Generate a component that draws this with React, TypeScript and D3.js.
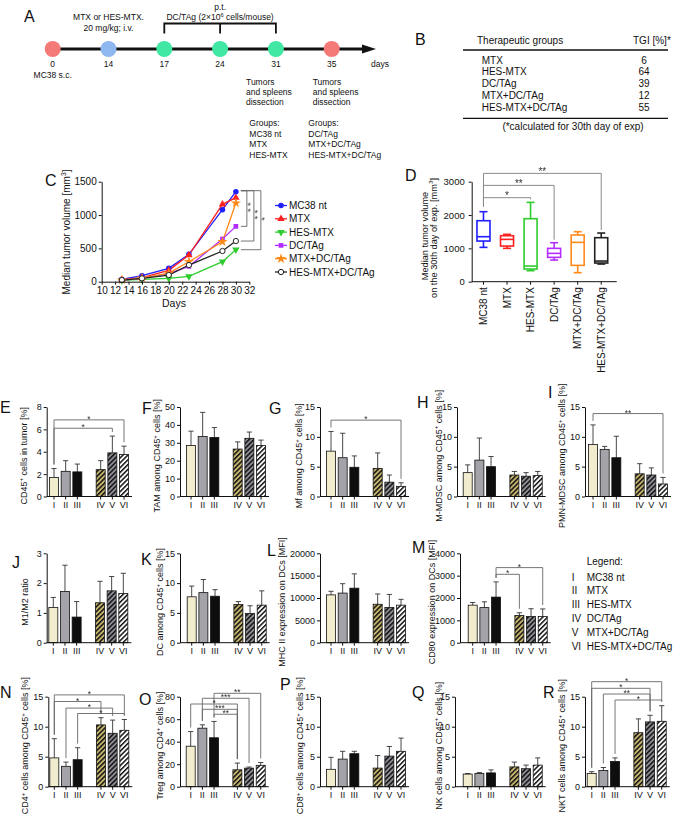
import React, { useEffect, useRef } from "react";
import * as d3 from "d3";

const FONT = "'Liberation Sans', Arial, Helvetica, sans-serif";
const INK = "#111";
const SIG = "#666";

// ---- A: timeline
const timelineDays = [0, 14, 17, 24, 31, 35];
const timelineColors = ["#f47a78", "#8fb8f0", "#40e8a4", "#40e8a4", "#40e8a4", "#f47a78"];

// ---- B: TGI table
const tgiGroups = ["MTX", "HES-MTX", "DC/TAg", "MTX+DC/TAg", "HES-MTX+DC/TAg"];
const tgiValues = [6, 64, 39, 12, 55];

// ---- C: tumour growth
const groupNames = ["MC38 nt", "MTX", "HES-MTX", "DC/TAg", "MTX+DC/TAg", "HES-MTX+DC/TAg"];
const groupColors = ["#1f1fff", "#ff2020", "#2fcc2f", "#b32cff", "#ff8a1a", "#222222"];
const growthDays = [13, 16, 20, 23, 28, 30];
const growthMC38 = [35, 90, 200, 410, 1080, 1350];
const growthMTX = [30, 60, 170, 400, 1160, 1260];
const growthHES = [20, 35, 50, 80, 300, 480];
const growthDC = [25, 50, 120, 230, 640, 830];
const growthMTXDC = [25, 55, 130, 300, 600, 1180];
const growthHESDC = [25, 50, 100, 250, 460, 610];
const growthSeries = [growthMC38, growthMTX, growthHES, growthDC, growthMTXDC, growthHESDC];
// comparisons vs MC38 nt on day 30
const growthSigTarget = [3, 5, 2];
const growthSigLabel = ["**", "**", "*"];

// ---- D: day-30 boxes
const boxMin = [1030, 1000, 330, 650, 270, 530];
const boxQ1 = [1220, 1070, 380, 730, 490, 560];
const boxMedian = [1350, 1270, 470, 850, 1180, 620];
const boxQ3 = [1830, 1380, 1890, 1000, 1400, 1320];
const boxMax = [2100, 1420, 2380, 1170, 1500, 1460];
const boxSig = [
  { a: 0, b: 2, level: 2520, label: "*" },
  { a: 0, b: 3, level: 2890, label: "**" },
  { a: 0, b: 5, level: 3250, label: "**" },
];

// ---- E..R: bar panels (groups I..VI)
const roman = ["I", "II", "III", "IV", "V", "VI"];
const cd45Mean = [1.7, 2.25, 2.2, 2.4, 3.9, 3.75];
const cd45Sd = [0.8, 0.95, 0.7, 0.8, 1.5, 0.75];
const cd45Sig = [{ a: 0, b: 5, level: 6.85, label: "*" }, { a: 0, b: 4, level: 6.1, label: "*" }];
const tamMean = [28.5, 33.5, 33, 26.5, 32.5, 28.5];
const tamSd = [8, 13.5, 5.5, 4, 3.5, 3];
const mfMean = [7.6, 6.5, 4.9, 4.7, 2.4, 1.7];
const mfSd = [3.3, 4.1, 1.9, 2.6, 1.2, 0.6];
const mfSig = [{ a: 0, b: 5, level: 12.8, label: "*" }];
const mmdscMean = [4.0, 6.1, 5.0, 3.6, 3.4, 3.5];
const mmdscSd = [1.3, 3.7, 1.7, 0.6, 0.6, 0.7];
const pmnMean = [8.7, 7.9, 6.5, 3.8, 3.6, 2.1];
const pmnSd = [3.3, 0.5, 3.6, 1.7, 1.2, 1.1];
const pmnSig = [{ a: 0, b: 5, level: 13.9, label: "**" }];
const m1m2Mean = [1.18, 1.72, 0.86, 1.34, 1.74, 1.65];
const m1m2Sd = [0.34, 0.88, 0.52, 0.72, 0.48, 0.68];
const dcMean = [7.7, 8.4, 7.8, 6.4, 4.9, 6.3];
const dcSd = [1.8, 2.2, 1.1, 0.5, 1.3, 2.4];
const mhcMean = [10700, 11100, 12200, 8600, 7900, 8400];
const mhcSd = [800, 2100, 3200, 2300, 2900, 1300];
const cd80Mean = [1680, 1570, 2040, 1220, 1170, 1170];
const cd80Sd = [120, 260, 680, 120, 350, 340];
const cd80Sig = [{ a: 2, b: 5, level: 3360, label: "*" }, { a: 2, b: 3, level: 3060, label: "*" }];
const cd4Mean = [4.8, 3.4, 4.5, 10.3, 8.9, 9.4];
const cd4Sd = [3.2, 0.7, 2.0, 1.2, 2.2, 1.8];
const cd4Sig = [
  { a: 0, b: 5, level: 15.3, label: "*" },
  { a: 0, b: 3, level: 14.2, label: "*" },
  { a: 1, b: 4, level: 13.1, label: "*" },
  { a: 2, b: 5, level: 12.2, label: "*" },
];
const tregMean = [36, 52, 43.5, 15, 16.5, 19];
const tregSd = [13, 3, 14.5, 6, 1, 2.5];
const tregSig = [
  { a: 2, b: 5, level: 83, label: "**" },
  { a: 1, b: 4, level: 78.6, label: "***" },
  { a: 0, b: 3, level: 73.5, label: "*" },
  { a: 1, b: 3, level: 68.8, label: "***" },
  { a: 2, b: 3, level: 64.4, label: "**" },
];
const cd8Mean = [2.9, 4.6, 5.5, 3.1, 5.1, 5.9];
const cd8Sd = [2.0, 1.3, 0.4, 2.1, 1.6, 2.2];
const nkMean = [2.1, 2.2, 2.3, 3.3, 3.0, 3.6];
const nkSd = [0.1, 0.15, 0.5, 0.8, 0.6, 1.2];
const nktMean = [2.2, 2.7, 4.2, 9.0, 10.8, 10.9];
const nktSd = [0.3, 0.5, 0.6, 2.3, 1.1, 2.6];
const nktSig = [
  { a: 0, b: 5, level: 17.5, label: "*" },
  { a: 0, b: 4, level: 16.4, label: "*" },
  { a: 1, b: 4, level: 15.45, label: "**" },
  { a: 2, b: 5, level: 14.45, label: "*" },
];

const barFills = ["#f2ecce", "#a3a3a9", "#0e0e0e", "url(#hatch-iv)", "url(#hatch-v)", "url(#hatch-vi)"];

// layout of the small bar panels
const rows = [
  { y0: 496.5, yTop: 407 },
  { y0: 642.7, yTop: 553.3 },
  { y0: 786.7, yTop: 696.7 },
];
const barPanels = [
  { letter: "E", lx: 0, ly: 413, row: 0, x0: 46.7, x1: 54, max: 8, ticks: [0, 2, 4, 6, 8], label: "CD45{+} cells in tumor [%]", labelX: 26.7, mean: cd45Mean, sd: cd45Sd, sig: cd45Sig },
  { letter: "F", lx: 142, ly: 414, row: 0, x0: 180, x1: 191, max: 50, ticks: [0, 10, 20, 30, 40, 50], label: "TAM among CD45{+} cells [%]", labelX: 160, mean: tamMean, sd: tamSd, sig: [] },
  { letter: "G", lx: 269, ly: 414, row: 0, x0: 320, x1: 331, max: 15, ticks: [0, 5, 10, 15], label: "Mf among CD45{+} cells [%]", labelX: 302, mean: mfMean, sd: mfSd, sig: mfSig },
  { letter: "H", lx: 417, ly: 408, row: 0, x0: 457, x1: 467.7, max: 15, ticks: [0, 5, 10, 15], label: "M-MDSC among CD45{+} cells [%]", labelX: 441.7, mean: mmdscMean, sd: mmdscSd, sig: [] },
  { letter: "I", lx: 548, ly: 398, row: 0, x0: 585, x1: 593, max: 15, ticks: [0, 5, 10, 15], label: "PMN-MDSC among CD45{+} cells [%]", labelX: 565, mean: pmnMean, sd: pmnSd, sig: pmnSig },
  { letter: "J", lx: 12, ly: 568, row: 1, x0: 46.7, x1: 53.3, max: 3, ticks: [0, 1, 2, 3], label: "M1/M2 ratio", labelX: 28.3, mean: m1m2Mean, sd: m1m2Sd, sig: [] },
  { letter: "K", lx: 141, ly: 565, row: 1, x0: 180, x1: 191.7, max: 15, ticks: [0, 5, 10, 15], label: "DC among CD45{+} cells [%]", labelX: 163, mean: dcMean, sd: dcSd, sig: [] },
  { letter: "L", lx: 267, ly: 556, row: 1, x0: 320, x1: 331, max: 20000, ticks: [0, 5000, 10000, 15000, 20000], label: "MHC II expression on DCs [MFI]", labelX: 285, mean: mhcMean, sd: mhcSd, sig: [] },
  { letter: "M", lx: 412, ly: 553, row: 1, x0: 460, x1: 472.7, max: 4000, ticks: [0, 1000, 2000, 3000, 4000], label: "CD80 expression on DCs [MFI]", labelX: 435, mean: cd80Mean, sd: cd80Sd, sig: cd80Sig },
  { letter: "N", lx: 0, ly: 698, row: 2, x0: 48.3, x1: 54.3, max: 15, ticks: [0, 5, 10, 15], label: "CD4{+} cells among CD45{+} cells [%]", labelX: 28, mean: cd4Mean, sd: cd4Sd, sig: cd4Sig },
  { letter: "O", lx: 139, ly: 705, row: 2, x0: 180, x1: 190.7, max: 80, ticks: [0, 20, 40, 60, 80], label: "Treg among CD4{+} cells [%]", labelX: 163, mean: tregMean, sd: tregSd, sig: tregSig },
  { letter: "P", lx: 280, ly: 690, row: 2, x0: 320, x1: 331, max: 15, ticks: [0, 5, 10, 15], label: "CD8{+} cells among CD45{+} cells [%]", labelX: 303, mean: cd8Mean, sd: cd8Sd, sig: [] },
  { letter: "Q", lx: 412, ly: 698, row: 2, x0: 455, x1: 467.7, max: 15, ticks: [0, 5, 10, 15], label: "NK cells among CD45{+} cells [%]", labelX: 441.7, mean: nkMean, sd: nkSd, sig: [] },
  { letter: "R", lx: 543, ly: 698, row: 2, x0: 585, x1: 591.7, max: 15, ticks: [0, 5, 10, 15], label: "NKT cells among CD45{+} cells [%]", labelX: 565, mean: nktMean, sd: nktSd, sig: nktSig },
];

// text with {superscript} parts
function rich(text: string, fs: number) {
  const parts = text.split(/(\{[^}]*\})/).filter((s) => s.length > 0);
  let raised = false;
  return parts.map((p, i) => {
    if (p[0] === "{") {
      raised = true;
      return (
        <tspan key={i} dy={-fs * 0.38} fontSize={fs * 0.68}>
          {p.slice(1, -1)}
        </tspan>
      );
    }
    const dy = raised ? fs * 0.38 : 0;
    raised = false;
    return (
      <tspan key={i} dy={dy}>
        {p}
      </tspan>
    );
  });
}

function Axis({ scale, dir, tx, ty, values, fs = 9, fmt, pad = 2, size = 3, noDomain = false, rotateLabels = false }: any) {
  const ref = useRef<SVGGElement>(null);
  useEffect(() => {
    const axis: any = dir === "left" ? d3.axisLeft(scale) : d3.axisBottom(scale);
    axis.tickSize(size).tickSizeOuter(0).tickPadding(pad);
    if (values) axis.tickValues(values);
    if (fmt) axis.tickFormat(fmt);
    const g = d3.select(ref.current as SVGGElement);
    g.call(axis);
    g.attr("font-family", FONT).attr("font-size", fs);
    g.selectAll("path,line").attr("stroke", INK).attr("stroke-width", 1);
    g.selectAll("text").attr("fill", INK);
    if (noDomain) g.select(".domain").remove();
    if (rotateLabels) {
      g.selectAll("text")
        .attr("transform", "rotate(-90)")
        .attr("x", -(size + pad))
        .attr("y", 0)
        .attr("dy", "0.35em")
        .attr("text-anchor", "end");
    }
  });
  return <g ref={ref} transform={`translate(${tx},${ty})`} />;
}

function Stars({ x, y, label, fs = 9 }: any) {
  // y = line level; asterisks sit just above
  return (
    <text x={x} y={y + 3} textAnchor="middle" fontSize={fs} fill="#333" filter="url(#gray)">
      {label}
    </text>
  );
}

function PanelA() {
  const x = d3.scalePoint<string>().domain(timelineDays.map(String)).range([52.7, 331.7]);
  const px = (d: number) => x(String(d)) as number;
  const cy = 49;
  return (
    <g fontSize={8.5} fill={INK}>
      <text x={24} y={22} fontSize={16}>A</text>
      <text x={px(14)} y={20} textAnchor="middle">MTX or HES-MTX.</text>
      <text x={px(14)} y={31} textAnchor="middle">20 mg/kg; i.v.</text>
      <text x={px(24)} y={9.5} textAnchor="middle">p.t.</text>
      <text x={px(24)} y={20} textAnchor="middle">
        {rich("DC/TAg (2×10{6} cells/mouse)", 8.5)}
      </text>
      <path
        d={`M${px(17)},33.5V23.5H${px(31)}V33.5M${px(24)},23.5V33.5`}
        stroke={INK}
        strokeWidth={1.8}
        fill="none"
      />
      <line x1={px(0)} x2={364} y1={cy} y2={cy} stroke={INK} strokeWidth={3} />
      <path d={`M362,${cy - 4.5}L376,${cy}L362,${cy + 4.5}Z`} fill={INK} />
      {timelineDays.map((d, i) => (
        <g key={d}>
          <circle cx={px(d)} cy={cy} r={8} fill={timelineColors[i]} />
          <text x={px(d)} y={67} textAnchor="middle">{d}</text>
        </g>
      ))}
      <text x={371} y={67}>days</text>
      <text x={px(0)} y={78} textAnchor="middle">MC38 s.c.</text>
      {["Tumors", "and spleens", "dissection"].map((t, i) => (
        <g key={t}>
          <text x={246} y={85 + i * 10.2}>{t}</text>
          <text x={312.7} y={85 + i * 10.2}>{t}</text>
        </g>
      ))}
      {["Groups:", ...groupNames.slice(0, 3)].map((t, i) => (
        <text key={t} x={249.3} y={126 + i * 10.5}>{t}</text>
      ))}
      {["Groups:", ...groupNames.slice(3)].map((t, i) => (
        <text key={t} x={308.3} y={126 + i * 10.5}>{t}</text>
      ))}
    </g>
  );
}

function PanelB() {
  return (
    <g fontSize={10} fill={INK}>
      <text x={415} y={45} fontSize={16}>B</text>
      <text x={477} y={44}>Therapeutic groups</text>
      <text x={633} y={44}>TGI [%]*</text>
      <line x1={463} x2={668} y1={50} y2={50} stroke={INK} strokeWidth={1.3} />
      {tgiGroups.map((g, i) => (
        <g key={g}>
          <text x={481.7} y={63.5 + i * 11.9}>{g}</text>
          <text x={644} y={63.5 + i * 11.9} textAnchor="middle">{tgiValues[i]}</text>
        </g>
      ))}
      <line x1={463} x2={668} y1={118.3} y2={118.3} stroke={INK} strokeWidth={1.3} />
      <text x={573} y={129.5} textAnchor="middle">(*calculated for 30th day of exp)</text>
    </g>
  );
}

const markerTypes = [d3.symbolCircle, d3.symbolTriangle, d3.symbolTriangle, d3.symbolSquare, d3.symbolStar, d3.symbolCircle];
const markerSizes = [24, 24, 24, 22, 32, 22];

function Marker({ i, x, y }: any) {
  const d = d3.symbol().type(markerTypes[i]).size(markerSizes[i])() as string;
  const open = i === 5;
  return (
    <path
      d={d}
      transform={`translate(${x},${y})${i === 2 ? " rotate(180)" : ""}`}
      fill={open ? "#fff" : groupColors[i]}
      stroke={open ? groupColors[i] : "none"}
      strokeWidth={1}
    />
  );
}

function PanelC() {
  const xC = d3.scaleLinear().domain([10, 32]).range([101.7, 249.3]);
  const yC = d3.scaleLinear().domain([0, 1500]).range([281.7, 181.7]);
  const line = d3
    .line<number>()
    .x((_, i) => xC(growthDays[i]))
    .y((v) => yC(v));
  const lastX = xC(growthDays[growthDays.length - 1]);
  const topY = yC(1365);
  return (
    <g fill={INK}>
      <text x={45} y={186} fontSize={16}>C</text>
      {growthSeries.map((s, k) => (
        <path key={k} d={line(s) as string} fill="none" stroke={groupColors[k]} strokeWidth={1.3} />
      ))}
      {growthSeries.map((s, k) =>
        s.map((v, i) => <Marker key={k + "-" + i} i={k} x={xC(growthDays[i])} y={yC(v)} />)
      )}
      {growthSigTarget.map((t, j) => {
        const vx = lastX + 11 + j * 7;
        const by = yC(growthSeries[t][growthSeries[t].length - 1]);
        const mid = (topY + by) / 2;
        return (
          <g key={j}>
            <path d={`M${lastX + 5},${topY}H${vx}V${by}H${lastX + 5}`} fill="none" stroke={SIG} strokeWidth={0.9} />
            <text
              transform={`translate(${vx - 2},${mid}) rotate(90)`}
              fontSize={9}
              textAnchor="middle"
              letterSpacing={2.5}
              fill="#333"
              filter="url(#gray)"
            >
              {growthSigLabel[j]}
            </text>
          </g>
        );
      })}
      <Axis scale={xC} dir="bottom" tx={0} ty={281.7} values={d3.range(10, 33, 2)} fs={10} />
      <Axis scale={yC} dir="left" tx={101.7} ty={0} values={[0, 500, 1000, 1500]} fs={10} fmt={d3.format("d")} />
      <text x={174} y={307} fontSize={10.5} textAnchor="middle">Days</text>
      <text transform="translate(70,232) rotate(-90)" fontSize={10} textAnchor="middle" dy="0.35em">
        {rich("Median tumor volume [mm{3}]", 10)}
      </text>
      {groupNames.map((g, k) => {
        const ly = 205.5 + k * 13.3;
        return (
          <g key={g}>
            <line x1={275} x2={287} y1={ly} y2={ly} stroke={groupColors[k]} strokeWidth={1.3} />
            <Marker i={k} x={281} y={ly} />
            <text x={289} y={ly + 3.6} fontSize={10}>{g}</text>
          </g>
        );
      })}
    </g>
  );
}

function PanelD() {
  const xD = d3.scaleBand<string>().domain(groupNames).range([471.7, 613]);
  const yD = d3.scaleLinear().domain([0, 3000]).range([281.7, 181.7]);
  const cx = (i: number) => (xD(groupNames[i]) as number) + xD.bandwidth() / 2;
  const bw = 13;
  return (
    <g fill={INK}>
      <text x={405} y={181} fontSize={16}>D</text>
      {groupNames.map((g, i) => {
        const c = cx(i);
        const col = groupColors[i];
        return (
          <g key={g} stroke={col} strokeWidth={1.6} fill="none">
            <line x1={c} x2={c} y1={yD(boxMax[i])} y2={yD(boxQ3[i])} />
            <line x1={c} x2={c} y1={yD(boxQ1[i])} y2={yD(boxMin[i])} />
            <line x1={c - 4} x2={c + 4} y1={yD(boxMax[i])} y2={yD(boxMax[i])} />
            <line x1={c - 4} x2={c + 4} y1={yD(boxMin[i])} y2={yD(boxMin[i])} />
            <rect x={c - bw / 2} y={yD(boxQ3[i])} width={bw} height={yD(boxQ1[i]) - yD(boxQ3[i])} fill="#fff" />
            <line x1={c - bw / 2} x2={c + bw / 2} y1={yD(boxMedian[i])} y2={yD(boxMedian[i])} />
          </g>
        );
      })}
      {boxSig.map((s, j) => {
        const xa = cx(s.a);
        const xb = cx(s.b);
        const yl = yD(s.level);
        return (
          <g key={j}>
            <path
              d={`M${xa},${yD(boxMax[s.a]) - 5}V${yl}H${xb}V${yD(boxMax[s.b]) - 3}`}
              fill="none"
              stroke="#8a8a8a"
              strokeWidth={1}
            />
            <Stars x={(xa + xb) / 2} y={yl - 1.5} label={s.label} fs={10} />
          </g>
        );
      })}
      <line x1={471.7} x2={616.7} y1={281.7} y2={281.7} stroke={INK} strokeWidth={1} />
      <Axis scale={xD} dir="bottom" tx={0} ty={281.7} fs={10} pad={2.5} noDomain rotateLabels />
      <Axis scale={yD} dir="left" tx={471.7} ty={0} values={[0, 1000, 2000, 3000]} fs={9.5} pad={4} fmt={d3.format("d")} />
      <text transform="translate(425,236) rotate(-90)" fontSize={9.2} textAnchor="middle" dy="0.35em">
        Median tumor volume
      </text>
      <text transform="translate(436.7,238) rotate(-90)" fontSize={9.2} textAnchor="middle" dy="0.35em">
        {rich("on the 30th day of exp. [mm{3}]", 9.2)}
      </text>
    </g>
  );
}

const slots = ["I", "II", "III", "_", "IV", "V", "VI"];
const slotW = 11.67;

function BarPanel(p: any) {
  const { y0, yTop } = rows[p.row];
  const xs = d3
    .scaleBand<string>()
    .domain(slots)
    .range([p.x1 - slotW / 2, p.x1 + 6.5 * slotW]);
  const ys = d3.scaleLinear().domain([0, p.max]).range([y0, yTop]);
  const cx = (i: number) => (xs(roman[i]) as number) + xs.bandwidth() / 2;
  const bw = 9;
  const errTop = (i: number) => ys(p.mean[i] + p.sd[i]);
  return (
    <g fill={INK}>
      <text x={p.lx} y={p.ly} fontSize={16}>{p.letter}</text>
      {p.mean.map((m: number, i: number) => (
        <g key={i}>
          <line x1={cx(i)} x2={cx(i)} y1={ys(m)} y2={errTop(i)} stroke="#333" strokeWidth={0.9} />
          <line x1={cx(i) - 2.6} x2={cx(i) + 2.6} y1={errTop(i)} y2={errTop(i)} stroke="#333" strokeWidth={0.9} />
          <rect
            x={cx(i) - bw / 2}
            y={ys(m)}
            width={bw}
            height={y0 - ys(m)}
            fill={barFills[i]}
            stroke={INK}
            strokeWidth={0.8}
          />
        </g>
      ))}
      {p.sig.map((s: any, j: number) => {
        const xa = cx(s.a);
        const xb = cx(s.b);
        const yl = ys(s.level);
        return (
          <g key={j}>
            <path
              d={`M${xa},${errTop(s.a) - 4}V${yl}H${xb}V${errTop(s.b) - 4}`}
              fill="none"
              stroke={SIG}
              strokeWidth={0.9}
            />
            <Stars x={(xa + xb) / 2} y={yl - 1} label={s.label} fs={8.5} />
          </g>
        );
      })}
      <line x1={p.x0} x2={cx(5) + 8} y1={y0} y2={y0} stroke={INK} strokeWidth={1} />
      <Axis scale={xs} dir="bottom" tx={0} ty={y0} values={roman} fs={9} noDomain />
      <Axis scale={ys} dir="left" tx={p.x0} ty={0} values={p.ticks} fs={9} fmt={d3.format("d")} />
      <text
        transform={`translate(${p.labelX},${(y0 + yTop) / 2 + 4}) rotate(-90)`}
        fontSize={9}
        textAnchor="middle"
        dy="0.35em"
      >
        {rich(p.label, 9)}
      </text>
    </g>
  );
}

function Legend() {
  return (
    <g fontSize={10} fill={INK}>
      <text x={586.7} y={565}>Legend:</text>
      {roman.map((r, i) => (
        <g key={r}>
          <text x={571.7} y={580.5 + i * 13.9}>{r}</text>
          <text x={586.7} y={580.5 + i * 13.9}>{groupNames[i]}</text>
        </g>
      ))}
    </g>
  );
}

function Hatch({ id, color }: any) {
  return (
    <pattern id={id} patternUnits="userSpaceOnUse" width={3.4} height={3.4} patternTransform="rotate(45)">
      <rect width={3.4} height={3.4} fill={color} />
      <rect width={1.5} height={3.4} fill="#111" />
    </pattern>
  );
}

export default function App() {
  return (
    <svg
      width={677}
      height={818}
      style={{ position: "absolute", left: 0, top: 0, background: "#fff" }}
      fontFamily={FONT}
    >
      <defs>
        <Hatch id="hatch-iv" color="#c6b66e" />
        <Hatch id="hatch-v" color="#8e8e96" />
        <Hatch id="hatch-vi" color="#ffffff" />
        <filter id="gray" x="-20%" y="-20%" width="140%" height="140%">
          <feColorMatrix type="saturate" values="0" />
        </filter>
      </defs>
      <rect width={677} height={818} fill="#fff" />
      <PanelA />
      <PanelB />
      <PanelC />
      <PanelD />
      {barPanels.map((p) => (
        <BarPanel key={p.letter} {...p} />
      ))}
      <Legend />
    </svg>
  );
}
